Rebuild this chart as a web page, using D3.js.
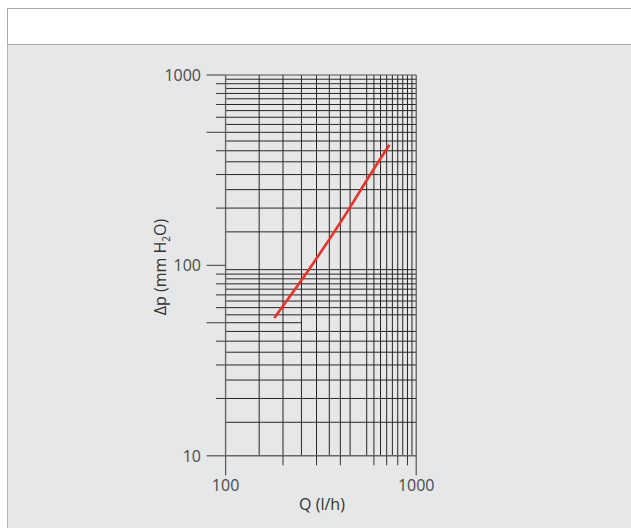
<!DOCTYPE html>
<html>
<head>
<meta charset="utf-8">
<script src="https://cdn.jsdelivr.net/npm/d3@7"></script>
<style>
  html, body { margin: 0; padding: 0; background: #ffffff; }
  svg { display: block; }
</style>
</head>
<body>
<svg id="chart" width="631" height="528"></svg>
<script>
// ---- data ----
const xDomain = [100, 1000];
const yDomain = [10, 1000];
const xGridValues = [150, 200, 250, 300, 350, 400, 450, 550, 600, 650, 700, 750, 800, 850, 900, 950];
const yGridValues = [15, 20, 25, 30, 35, 40, 45, 55, 60, 65, 70, 75, 80, 85, 90, 95,
                     150, 200, 250, 300, 350, 400, 450, 500, 550, 600, 650, 700, 750, 800, 850, 900, 950];
const yPartialLine = { value: 50, to: 250 };
const xMajorTicks = [100, 1000];
const xMinorTicks = [200, 300, 400, 600, 700, 800, 900];
const yMajorTicks = [10, 50, 100, 500, 1000];
const yMinorTicks = [20, 30, 40, 60, 70, 80, 90, 200, 300, 400, 600, 700, 800, 900];
const xTickLabels = [100, 1000];
const yTickLabels = [10, 100, 1000];
const curveQ  = [180, 283, 447, 551, 724];
const curveDp = [53, 100, 200, 281, 430];

// ---- drawing ----
const svg = d3.select("#chart");

// panel
svg.append("rect").attr("x", 7.5).attr("y", 8.5).attr("width", 640).attr("height", 540)
  .attr("fill", "#e6e7e8").attr("stroke", "#b4b4b4");
svg.append("rect").attr("x", 7.5).attr("y", 8.5).attr("width", 640).attr("height", 36)
  .attr("fill", "#ffffff").attr("stroke", "#a8a8a8");

const x = d3.scaleLog().domain(xDomain).range([225.6, 416.2]);
const y = d3.scaleLog().domain(yDomain).range([455.8, 75]);

const g = svg.append("g");
const lineColor = "#262626";

// horizontal grid
g.selectAll("line.hg").data(yGridValues).join("line")
  .attr("x1", x(100)).attr("x2", x(1000))
  .attr("y1", d => y(d)).attr("y2", d => y(d))
  .attr("stroke", lineColor).attr("stroke-width", 1);
g.append("line")
  .attr("x1", x(100)).attr("x2", x(yPartialLine.to))
  .attr("y1", y(yPartialLine.value)).attr("y2", y(yPartialLine.value))
  .attr("stroke", lineColor).attr("stroke-width", 1);

// vertical grid
g.selectAll("line.vg").data(xGridValues).join("line")
  .attr("x1", d => x(d)).attr("x2", d => x(d))
  .attr("y1", y(10)).attr("y2", y(1000))
  .attr("stroke", lineColor).attr("stroke-width", 1);

// frame lines (top, right, left, bottom)
g.append("line").attr("x1", x(100)).attr("x2", x(1000)).attr("y1", y(1000)).attr("y2", y(1000))
  .attr("stroke", "#555").attr("stroke-width", 1.2);
g.append("line").attr("x1", x(1000)).attr("x2", x(1000)).attr("y1", y(10)).attr("y2", y(1000))
  .attr("stroke", "#555").attr("stroke-width", 1.2);
g.append("line").attr("x1", x(100)).attr("x2", x(100)).attr("y1", y(10)).attr("y2", y(1000))
  .attr("stroke", "#666").attr("stroke-width", 1.4);
g.append("line").attr("x1", x(100)).attr("x2", x(1000)).attr("y1", y(10)).attr("y2", y(10))
  .attr("stroke", "#666").attr("stroke-width", 1.4);

// y ticks
g.selectAll("line.ymaj").data(yMajorTicks).join("line")
  .attr("x1", x(100) - 19).attr("x2", x(100))
  .attr("y1", d => y(d)).attr("y2", d => y(d))
  .attr("stroke", "#555").attr("stroke-width", 1.2);
g.selectAll("line.ymin").data(yMinorTicks).join("line")
  .attr("x1", x(100) - 9.5).attr("x2", x(100))
  .attr("y1", d => y(d)).attr("y2", d => y(d))
  .attr("stroke", "#333").attr("stroke-width", 1);

// x ticks
g.selectAll("line.xmaj").data(xMajorTicks).join("line")
  .attr("x1", d => x(d)).attr("x2", d => x(d))
  .attr("y1", y(10)).attr("y2", y(10) + 19.5)
  .attr("stroke", "#555").attr("stroke-width", 1.2);
g.selectAll("line.xmin").data(xMinorTicks).join("line")
  .attr("x1", d => x(d)).attr("x2", d => x(d))
  .attr("y1", y(10)).attr("y2", y(10) + 9.5)
  .attr("stroke", "#333").attr("stroke-width", 1);

// tick labels
const font = "'Open Sans', 'Noto Sans', sans-serif";
g.selectAll("text.yl").data(yTickLabels).join("text")
  .attr("x", 201).attr("y", d => y(d))
  .attr("dy", "0.36em")
  .attr("text-anchor", "end")
  .attr("font-family", font).attr("font-size", 16)
  .attr("fill", "#4a4a4a")
  .text(d => d);
g.selectAll("text.xl").data(xTickLabels).join("text")
  .attr("x", d => x(d)).attr("y", 491)
  .attr("text-anchor", "middle")
  .attr("font-family", font).attr("font-size", 16)
  .attr("fill", "#4a4a4a")
  .text(d => d);

// axis titles
g.append("text")
  .attr("x", 322).attr("y", 510)
  .attr("text-anchor", "middle")
  .attr("font-family", font).attr("font-size", 16)
  .attr("fill", "#333")
  .text("Q (l/h)");

const yt = g.append("text")
  .attr("transform", "translate(166,267) rotate(-90)")
  .attr("text-anchor", "middle")
  .attr("font-family", font).attr("font-size", 16)
  .attr("fill", "#333");
yt.append("tspan").text("Δp (mm H");
yt.append("tspan").attr("dy", 4).attr("font-size", 10).text("2");
yt.append("tspan").attr("dy", -4).text("O)");

// curve
const pts = curveQ.map((q, i) => [x(q), y(curveDp[i])]);
g.append("path")
  .attr("d", d3.line().curve(d3.curveMonotoneX)(pts))
  .attr("fill", "none")
  .attr("stroke", "#ee3124")
  .attr("stroke-width", 2.6)
  .attr("stroke-linecap", "butt");
</script>
</body>
</html>
